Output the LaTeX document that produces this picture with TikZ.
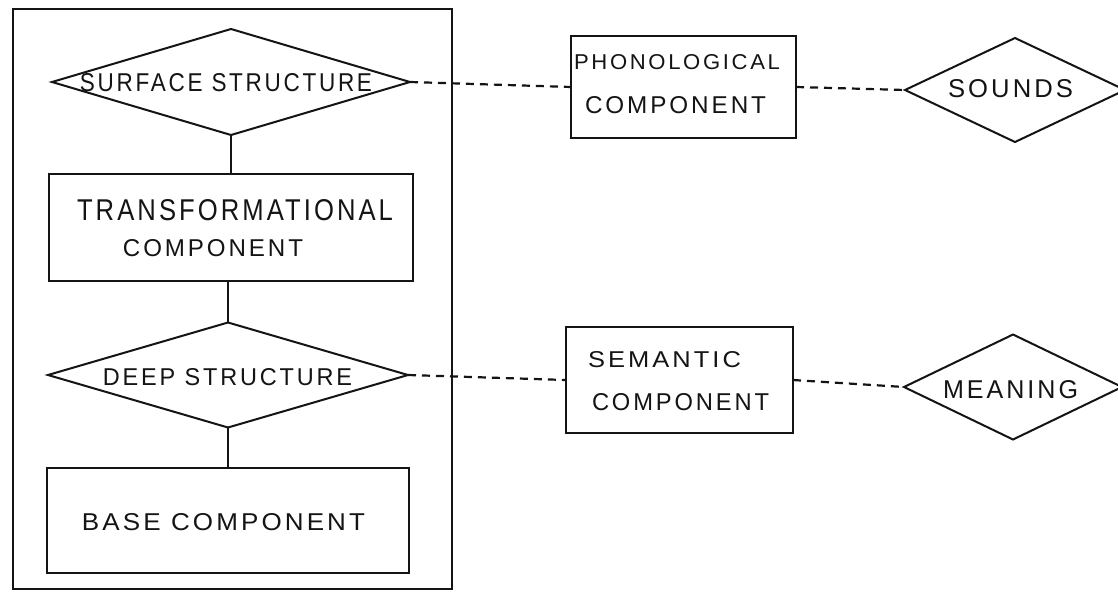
\documentclass[tikz,border=0pt]{standalone}
\usepackage{fontspec}
\usepackage{graphicx}
\usetikzlibrary{shapes.geometric}
\newfontfamily\handfont[LetterSpace=12]{Liberation Sans}
% capital lettering stretched to a given width and cap height
\newcommand\caps[3]{\resizebox{#1pt}{#2pt}{\handfont #3}}
\definecolor{ink}{HTML}{141414}
\begin{document}
\begin{tikzpicture}[x=1pt,y=-1pt,
  every node/.style={inner sep=0pt, outer sep=0pt},
  stage/.style={draw=ink, line width=2pt, rectangle},
  level/.style={draw=ink, line width=2pt, diamond},
  lettering/.style={text=ink},
  link/.style={draw=ink, line width=2pt},
  dashlink/.style={draw=ink, line width=2.2pt, dash pattern=on 8pt off 6pt}]
\useasboundingbox (0,0) rectangle (1118,592);
\clip (0,0) rectangle (1118,592);
\fill[white] (0,0) rectangle (1118,592);

% the grammar frame
\node[stage, line width=2.2pt, minimum width=439pt, minimum height=580pt] (grammar) at (232.5,299) {};

% left column: levels and components
\node[level, minimum width=358pt, minimum height=106pt] (surface) at (231,82) {};
\node[stage, minimum width=364pt, minimum height=107pt] (transf) at (231,227.5) {};
\node[level, minimum width=360pt, minimum height=105pt] (deep) at (228,375) {};
\node[stage, minimum width=362pt, minimum height=105pt] (base) at (228,520.5) {};

% right side: interpretive components and outputs
\node[stage, minimum width=225pt, minimum height=102pt] (phon) at (683.5,87) {};
\node[level, minimum width=220pt, minimum height=104pt] (sounds) at (1015,90) {};
\node[stage, minimum width=227pt, minimum height=106pt] (sem) at (679.5,380) {};
\node[level, minimum width=218pt, minimum height=105pt] (meaning) at (1013,387) {};

% labels
\node[lettering] (tsurface) at (226,83) {\caps{292}{18}{SURFACE STRUCTURE}};
\node[lettering] (ttransf) at (235,210) {\caps{316}{21}{TRANSFORMATIONAL}};
\node[lettering] (ttransfc) at (213,248) {\caps{180}{17}{COMPONENT}};
\node[lettering] (tdeep) at (227.5,377) {\caps{249}{17}{DEEP STRUCTURE}};
\node[lettering] (tbase) at (223.5,522) {\caps{283}{17}{BASE COMPONENT}};
\node[lettering] (tphon) at (677,62) {\caps{206}{15}{PHONOLOGICAL}};
\node[lettering] (tphonc) at (675.5,105) {\caps{181}{17}{COMPONENT}};
\node[lettering] (tsounds) at (1010.5,89) {\caps{125}{18}{SOUNDS}};
\node[lettering] (tsem) at (664.5,360) {\caps{153}{16}{SEMANTIC}};
\node[lettering] (tsemc) at (680.5,402) {\caps{177}{17}{COMPONENT}};
\node[lettering] (tmeaning) at (1010.5,390) {\caps{135}{18}{MEANING}};

% derivation links
\draw[link] (surface.south) -- (transf.north);
\draw[link] (transf.south -| deep.north) -- (deep.north);
\draw[link] (deep.south) -- (base.north);

% interpretation links
\draw[dashlink] (surface.east) -- (phon.west);
\draw[dashlink] (phon.east) -- (sounds.west);
\draw[dashlink] (deep.east) -- (sem.west);
\draw[dashlink] (sem.east) -- (meaning.west);
\end{tikzpicture}
\end{document}
